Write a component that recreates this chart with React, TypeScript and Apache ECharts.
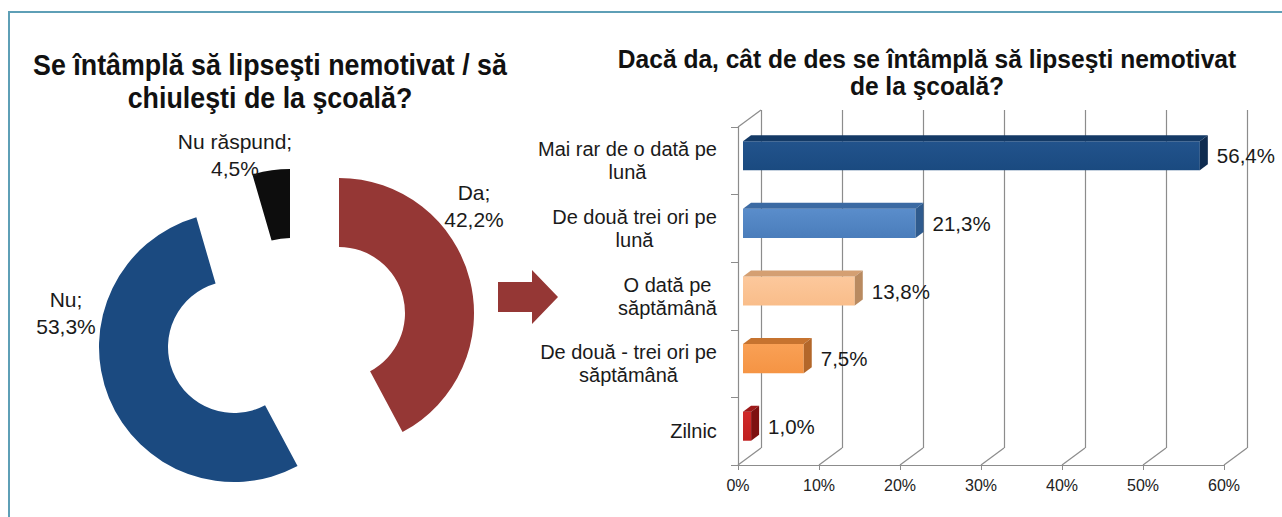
import React, { useEffect, useRef } from 'react';
import * as echarts from 'echarts';

// ---- Data ----
const pieNames = ['Da', 'Nu', 'Nu răspund'];
const pieValues = [42.2, 53.3, 4.5];
const pieColors = ['#953735', '#1b4a80', '#0d0d0d'];

const barCategories = [
  'Mai rar de o dată pe\nlună',
  'De două trei ori pe\nlună',
  'O dată pe\nsăptămână',
  'De două - trei ori pe\nsăptămână',
  'Zilnic',
];
const barValues = [56.4, 21.3, 13.8, 7.5, 1.0];
const xTicks = [0, 10, 20, 30, 40, 50, 60];

const barColors = [
  { front: ['#22538c', '#1a4a80'], top: '#143a66', side: '#0f2c50' },
  { front: ['#5a8dcb', '#4a7dbb'], top: '#3b6aa3', side: '#2f5b8e' },
  { front: ['#fcc89c', '#f9bd8a'], top: '#d49f72', side: '#b98a60' },
  { front: ['#f9a055', '#f59444'], top: '#c6732f', side: '#b3672a' },
  { front: ['#d02a2a', '#c02020'], top: '#9e1a1a', side: '#7e1111' },
];

const FONT = '"Liberation Sans", Arial, Helvetica, sans-serif';
const fmtPct = (v: number) => `${v.toFixed(1).replace('.', ',')}%`;

// geometry (layout)
const WALL_DX = 23;
const WALL_DY = -17;
const BAR_FX = 5;
const BAR_FY = -5;
const BAR_DX = 8;
const BAR_DY = -6;

const pieCenters: [number, number][] = [
  [339, 313],
  [234, 347],
  [290, 304],
];
const pieLabelPos: [number, number][] = [
  [474, 206],
  [66, 313],
  [235, 155],
];

function measure(text: string, font: string) {
  const c = document.createElement('canvas');
  const ctx = c.getContext('2d');
  if (!ctx) return text.length * 10;
  ctx.font = font;
  return ctx.measureText(text).width;
}

export default function App() {
  const ref = useRef<HTMLDivElement>(null);

  useEffect(() => {
    if (!ref.current) return;
    const chart = echarts.init(ref.current, undefined, { renderer: 'svg' });

    const catFontSize = 20;
    const rich: Record<string, any> = {};
    barCategories.forEach((c, i) => {
      const w = Math.max(...c.split('\n').map((l) => measure(l, `${catFontSize}px ${FONT}`)));
      rich['c' + i] = {
        width: Math.ceil(w) + 2,
        align: 'center',
        fontSize: catFontSize,
        lineHeight: 23,
        fontFamily: FONT,
        color: '#1a1a1a',
      };
    });

    const pieSeries = pieNames.map((_, i) => ({
      type: 'pie',
      center: pieCenters[i],
      radius: [66, 135],
      startAngle: 90,
      clockwise: true,
      silent: true,
      avoidLabelOverlap: false,
      emphasis: { disabled: true },
      itemStyle: { borderWidth: 0 },
      labelLine: { show: false },
      label: {
        position: 'outside',
        fontSize: 21,
        lineHeight: 27,
        fontFamily: FONT,
        color: '#1a1a1a',
        align: 'center',
        formatter: (p: any) => `${p.name};\n${fmtPct(p.value)}`,
      },
      labelLayout: {
        x: pieLabelPos[i][0],
        y: pieLabelPos[i][1],
        align: 'center',
        verticalAlign: 'middle',
      },
      data: pieNames.map((n, j) => ({
        name: n,
        value: pieValues[j],
        itemStyle: { color: j === i ? pieColors[j] : 'transparent', borderWidth: 0 },
        label: { show: j === i },
      })),
    }));

    const option: any = {
      animation: false,
      backgroundColor: '#ffffff',
      textStyle: { fontFamily: FONT },
      graphic: [
        {
          type: 'polyline',
          shape: { points: [[9, 517], [9, 12], [1282, 12]] },
          style: { stroke: '#5e9fb6', lineWidth: 2, fill: 'none' },
          silent: true,
        },
        {
          type: 'text',
          x: 270,
          y: 49,
          scaleX: 0.925,
          style: {
            text: 'Se întâmplă să lipseşti nemotivat / să\nchiuleşti de la şcoală?',
            font: `bold 29px ${FONT}`,
            lineHeight: 33,
            align: 'center',
            verticalAlign: 'top',
            fill: '#111111',
          },
        },
        {
          type: 'text',
          x: 927,
          y: 45,
          scaleX: 0.945,
          style: {
            text: 'Dacă da, cât de des se întâmplă să lipseşti nemotivat\nde la şcoală?',
            font: `bold 26px ${FONT}`,
            lineHeight: 27,
            align: 'center',
            verticalAlign: 'top',
            fill: '#111111',
          },
        },
        {
          type: 'polygon',
          shape: {
            points: [
              [498, 282],
              [532, 282],
              [532, 270],
              [558, 297],
              [532, 324],
              [532, 312],
              [498, 312],
            ],
          },
          style: { fill: '#953735' },
          silent: true,
        },
      ],
      grid: [
        { left: 738, top: 127, width: 486, height: 338, containLabel: false },
        { left: 738 + WALL_DX, top: 127 + WALL_DY, width: 486, height: 338, containLabel: false },
      ],
      xAxis: [
        {
          gridIndex: 0,
          type: 'value',
          min: 0,
          max: 60,
          interval: 10,
          axisLine: { show: true, lineStyle: { color: '#8c8c8c', width: 1.2 } },
          axisTick: { show: true, length: 5, lineStyle: { color: '#8c8c8c' } },
          axisLabel: {
            formatter: '{value}%',
            fontSize: 16,
            color: '#222222',
            margin: 12,
            fontFamily: FONT,
          },
          splitLine: { show: false },
        },
        {
          gridIndex: 1,
          type: 'value',
          min: 0,
          max: 60,
          interval: 10,
          axisLine: { show: false },
          axisTick: { show: false },
          axisLabel: { show: false },
          splitLine: { show: true, lineStyle: { color: '#8c8c8c', width: 1.2 } },
        },
      ],
      yAxis: [
        {
          gridIndex: 0,
          type: 'category',
          inverse: true,
          data: barCategories,
          axisLine: { show: true, lineStyle: { color: '#8c8c8c', width: 1.2 } },
          axisTick: { show: true, length: 7, lineStyle: { color: '#8c8c8c' } },
          axisLabel: {
            margin: 20,
            formatter: (val: string, idx: number) =>
              val
                .split('\n')
                .map((l) => `{c${idx}|${l}}`)
                .join('\n'),
            rich,
          },
          splitLine: { show: false },
        },
        {
          gridIndex: 1,
          type: 'category',
          inverse: true,
          data: barCategories,
          show: false,
        },
      ],
      series: [
        ...pieSeries,
        {
          type: 'custom',
          name: 'floor',
          xAxisIndex: 0,
          yAxisIndex: 0,
          silent: true,
          clip: false,
          encode: { x: 0, y: 1 },
          data: xTicks.map((t) => [t, 0]),
          renderItem: (params: any, api: any) => {
            const cs = params.coordSys;
            const x = api.coord([api.value(0), 0])[0];
            const yb = cs.y + cs.height;
            const lineStyle = { stroke: '#8c8c8c', lineWidth: 1.2 };
            const children: any[] = [
              {
                type: 'line',
                shape: { x1: x, y1: yb, x2: x + WALL_DX, y2: yb + WALL_DY },
                style: lineStyle,
              },
            ];
            if (api.value(0) === 0) {
              children.push({
                type: 'line',
                shape: { x1: x, y1: cs.y, x2: x + WALL_DX, y2: cs.y + WALL_DY },
                style: lineStyle,
              });
            }
            return { type: 'group', children };
          },
        },
        {
          type: 'custom',
          name: 'bars',
          xAxisIndex: 0,
          yAxisIndex: 0,
          silent: true,
          clip: false,
          encode: { x: 0, y: 1 },
          data: barValues.map((v, i) => [v, i]),
          renderItem: (params: any, api: any) => {
            const v = api.value(0);
            const ci = api.value(1);
            const p0 = api.coord([0, ci]);
            const p1 = api.coord([v, ci]);
            const band = api.size([0, 1])[1];
            const h = band * 0.43;
            const col = barColors[params.dataIndex];
            const x0 = p0[0] + BAR_FX;
            const x1 = p1[0] + BAR_FX;
            const yc = p0[1] + BAR_FY;
            const yt = yc - h / 2;
            const yb = yc + h / 2;
            return {
              type: 'group',
              children: [
                {
                  type: 'rect',
                  shape: { x: x0, y: yt, width: x1 - x0, height: h },
                  style: {
                    fill: new echarts.graphic.LinearGradient(0, 0, 0, 1, [
                      { offset: 0, color: col.front[0] },
                      { offset: 1, color: col.front[1] },
                    ]),
                  },
                },
                {
                  type: 'polygon',
                  shape: {
                    points: [
                      [x0, yt],
                      [x0 + BAR_DX, yt + BAR_DY],
                      [x1 + BAR_DX, yt + BAR_DY],
                      [x1, yt],
                    ],
                  },
                  style: { fill: col.top },
                },
                {
                  type: 'polygon',
                  shape: {
                    points: [
                      [x1, yt],
                      [x1 + BAR_DX, yt + BAR_DY],
                      [x1 + BAR_DX, yb + BAR_DY],
                      [x1, yb],
                    ],
                  },
                  style: { fill: col.side },
                },
                {
                  type: 'text',
                  x: x1 + BAR_DX + 9,
                  y: yc,
                  style: {
                    text: fmtPct(v),
                    font: `20.5px ${FONT}`,
                    fill: '#1a1a1a',
                    align: 'left',
                    verticalAlign: 'middle',
                  },
                },
              ],
            };
          },
        },
      ],
    };

    chart.setOption(option);
    return () => chart.dispose();
  }, []);

  return (
    <div
      ref={ref}
      style={{ position: 'fixed', left: 0, top: 0, width: 1282, height: 517, background: '#fff' }}
    />
  );
}
